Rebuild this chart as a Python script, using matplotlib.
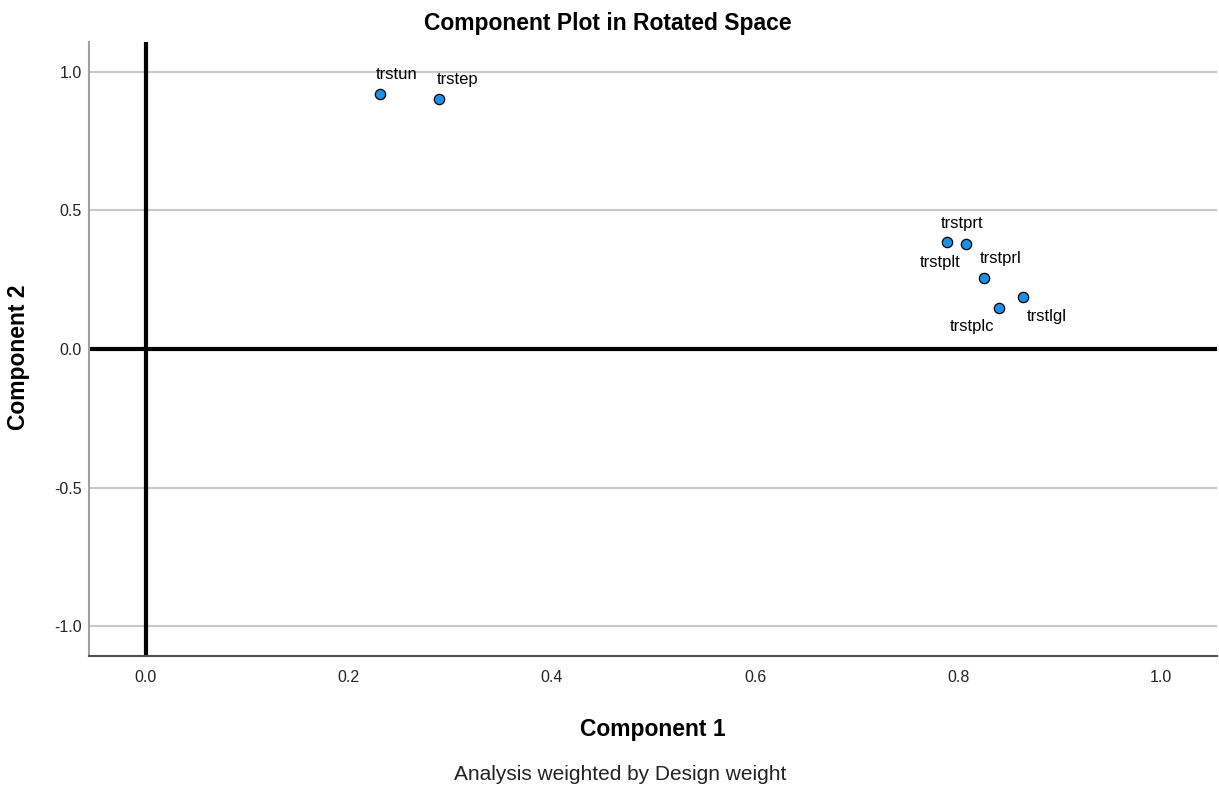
import matplotlib
matplotlib.use('Agg')
import matplotlib.pyplot as plt

plt.rcParams['font.family'] = ['Liberation Sans', 'DejaVu Sans']

# Ladungen der Variablen im rotierten Raum
variablen = ['trstun', 'trstep', 'trstplt', 'trstprt', 'trstprl', 'trstplc', 'trstlgl']
komponente1 = [0.231, 0.289, 0.789, 0.808, 0.825, 0.840, 0.864]
komponente2 = [0.921, 0.903, 0.387, 0.378, 0.256, 0.148, 0.188]

x_ticks = [0.0, 0.2, 0.4, 0.6, 0.8, 1.0]
y_ticks = [-1.0, -0.5, 0.0, 0.5, 1.0]

# Verschiebung der Beschriftungen in Punkten (SPSS-Anordnung)
versatz = {
    'trstun': (12, 14), 'trstep': (13, 14), 'trstplt': (-5, -15),
    'trstprt': (-3, 15), 'trstprl': (12, 14), 'trstplc': (-19, -13),
    'trstlgl': (17, -14),
}

fig = plt.figure(figsize=(12.19, 7.90), dpi=100)
ax = fig.add_axes([0.0730, 0.1696, 0.9254, 0.7772])

ax.set_xlim(-0.056, 1.055)
ax.set_ylim(-1.108, 1.108)

for y in y_ticks:
    ax.axhline(y, color='#c8c8c8', lw=1.5, zorder=0)
ax.axhline(0, color='black', lw=3, zorder=1)
ax.axvline(0, color='black', lw=3, zorder=1)

ax.scatter(komponente1, komponente2, s=55, color='#1e8ee6', edgecolor='black',
           linewidth=0.9, zorder=3)
for name, x, y in zip(variablen, komponente1, komponente2):
    ax.annotate(name, (x, y), xytext=versatz[name], textcoords='offset points',
                ha='center', va='center', fontsize=12, color='black')

ax.set_xticks(x_ticks)
ax.set_xticklabels([f'{v:.1f}' for v in x_ticks])
ax.set_yticks(y_ticks)
ax.set_yticklabels([f'{v:.1f}' for v in y_ticks])
ax.tick_params(length=0, labelsize=11.5, colors='#222222')
ax.tick_params(axis='x', pad=10)
ax.tick_params(axis='y', pad=5)

ax.spines['top'].set_visible(False)
ax.spines['right'].set_visible(False)
ax.spines['left'].set_color('#a0a0a0')
ax.spines['left'].set_linewidth(1.5)
ax.spines['bottom'].set_color('#505050')
ax.spines['bottom'].set_linewidth(1.5)

ax.set_xlabel('Component 1', fontsize=16.5, fontweight='bold', labelpad=24)
ax.set_ylabel('Component 2', fontsize=16.5, fontweight='bold')
ax.yaxis.set_label_coords(-0.052, 0.487)
fig.text(0.499, 0.970, 'Component Plot in Rotated Space', ha='center', va='center',
         fontsize=16.5, fontweight='bold')
fig.text(0.509, 0.019, 'Analysis weighted by Design weight', ha='center', va='center',
         fontsize=15, color='#222222')

fig.savefig('out.png', dpi=100)
